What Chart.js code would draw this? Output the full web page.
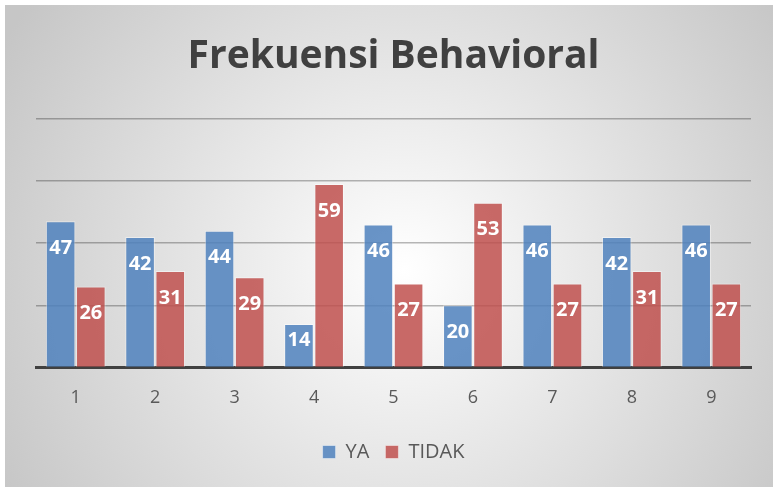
<!DOCTYPE html>
<html>
<head>
<meta charset="utf-8">
<script src="https://cdn.jsdelivr.net/npm/chart.js@4"></script>
<style>
    html, body { margin: 0; padding: 0; background: #fff; }
    #wrap { position: absolute; left: 5px; top: 5px; width: 768px; height: 482px; }
</style>
</head>
<body>
<div id="wrap"><canvas id="chart"></canvas></div>
<script>
const categories = ['1', '2', '3', '4', '5', '6', '7', '8', '9'];
const yaValues = [47, 42, 44, 14, 46, 20, 46, 42, 46];
const tidakValues = [26, 31, 29, 59, 27, 53, 27, 31, 27];
const yTicks = [0, 20, 40, 60, 80];

const FONT = "'Open Sans', 'Noto Sans', sans-serif";

// fondo con sfumatura radiale
const backgroundPlugin = {
    id: 'bgGradient',
    beforeDraw(chart) {
        const { ctx, width, height } = chart;
        const g = ctx.createRadialGradient(width * 0.52, height * 0.55, 0, width * 0.52, height * 0.55, width * 0.6);
        g.addColorStop(0, '#ffffff');
        g.addColorStop(1, '#c6c6c6');
        ctx.save();
        ctx.fillStyle = g;
        ctx.fillRect(0, 0, width, height);
        ctx.restore();
    }
};

// etichette bianche dentro la cima delle barre
const labelPlugin = {
    id: 'barLabels',
    afterDatasetsDraw(chart) {
        const { ctx } = chart;
        ctx.save();
        ctx.fillStyle = '#ffffff';
        ctx.font = `bold 20px ${FONT}`;
        ctx.textAlign = 'center';
        ctx.textBaseline = 'middle';
        chart.data.datasets.forEach((ds, i) => {
            chart.getDatasetMeta(i).data.forEach((bar, j) => {
                const y = Math.min(bar.y + 27, bar.base - 26);
                ctx.fillText(String(ds.data[j]), bar.x, y);
            });
        });
        ctx.restore();
    }
};

new Chart(document.getElementById('chart'), {
    type: 'bar',
    data: {
        labels: categories,
        datasets: [
            {
                label: 'YA',
                data: yaValues,
                backgroundColor: 'rgba(79, 129, 189, 0.85)',
                borderColor: 'rgba(255, 255, 255, 0.45)',
                borderWidth: 1
            },
            {
                label: 'TIDAK',
                data: tidakValues,
                backgroundColor: 'rgba(192, 80, 77, 0.85)',
                borderColor: 'rgba(255, 255, 255, 0.45)',
                borderWidth: 1
            }
        ]
    },
    options: {
        responsive: true,
        maintainAspectRatio: false,
        animation: false,
        categoryPercentage: 0.76,
        barPercentage: 0.98,
        layout: { padding: { left: 31, right: 22, bottom: 15 } },
        plugins: {
            title: {
                display: true,
                text: 'Frekuensi Behavioral',
                color: '#404040',
                font: { family: FONT, size: 39, weight: 'bold' },
                padding: { top: 28, bottom: 39 }
            },
            legend: {
                position: 'bottom',
                labels: {
                    color: '#595959',
                    font: { family: FONT, size: 20 },
                    boxWidth: 13,
                    boxHeight: 13,
                    padding: 16
                }
            },
            tooltip: { enabled: false }
        },
        scales: {
            x: {
                grid: { display: false },
                border: { display: true, color: '#404040', width: 3 },
                ticks: { color: '#595959', font: { family: FONT, size: 18 }, padding: 12 },
                afterFit: scale => { scale.height += 5; }
            },
            y: {
                min: yTicks[0],
                max: yTicks[yTicks.length - 1],
                afterBuildTicks: scale => { scale.ticks = yTicks.map(v => ({ value: v })); },
                afterFit: scale => { scale.width = 0; },
                ticks: { display: false },
                border: { display: false },
                grid: {
                    color: ctx => ctx.tick && ctx.tick.value === 0 ? 'rgba(0,0,0,0)' : 'rgba(0, 0, 0, 0.28)',
                    lineWidth: 1.5,
                    drawTicks: false
                }
            }
        }
    },
    plugins: [backgroundPlugin, labelPlugin]
});
</script>
</body>
</html>
